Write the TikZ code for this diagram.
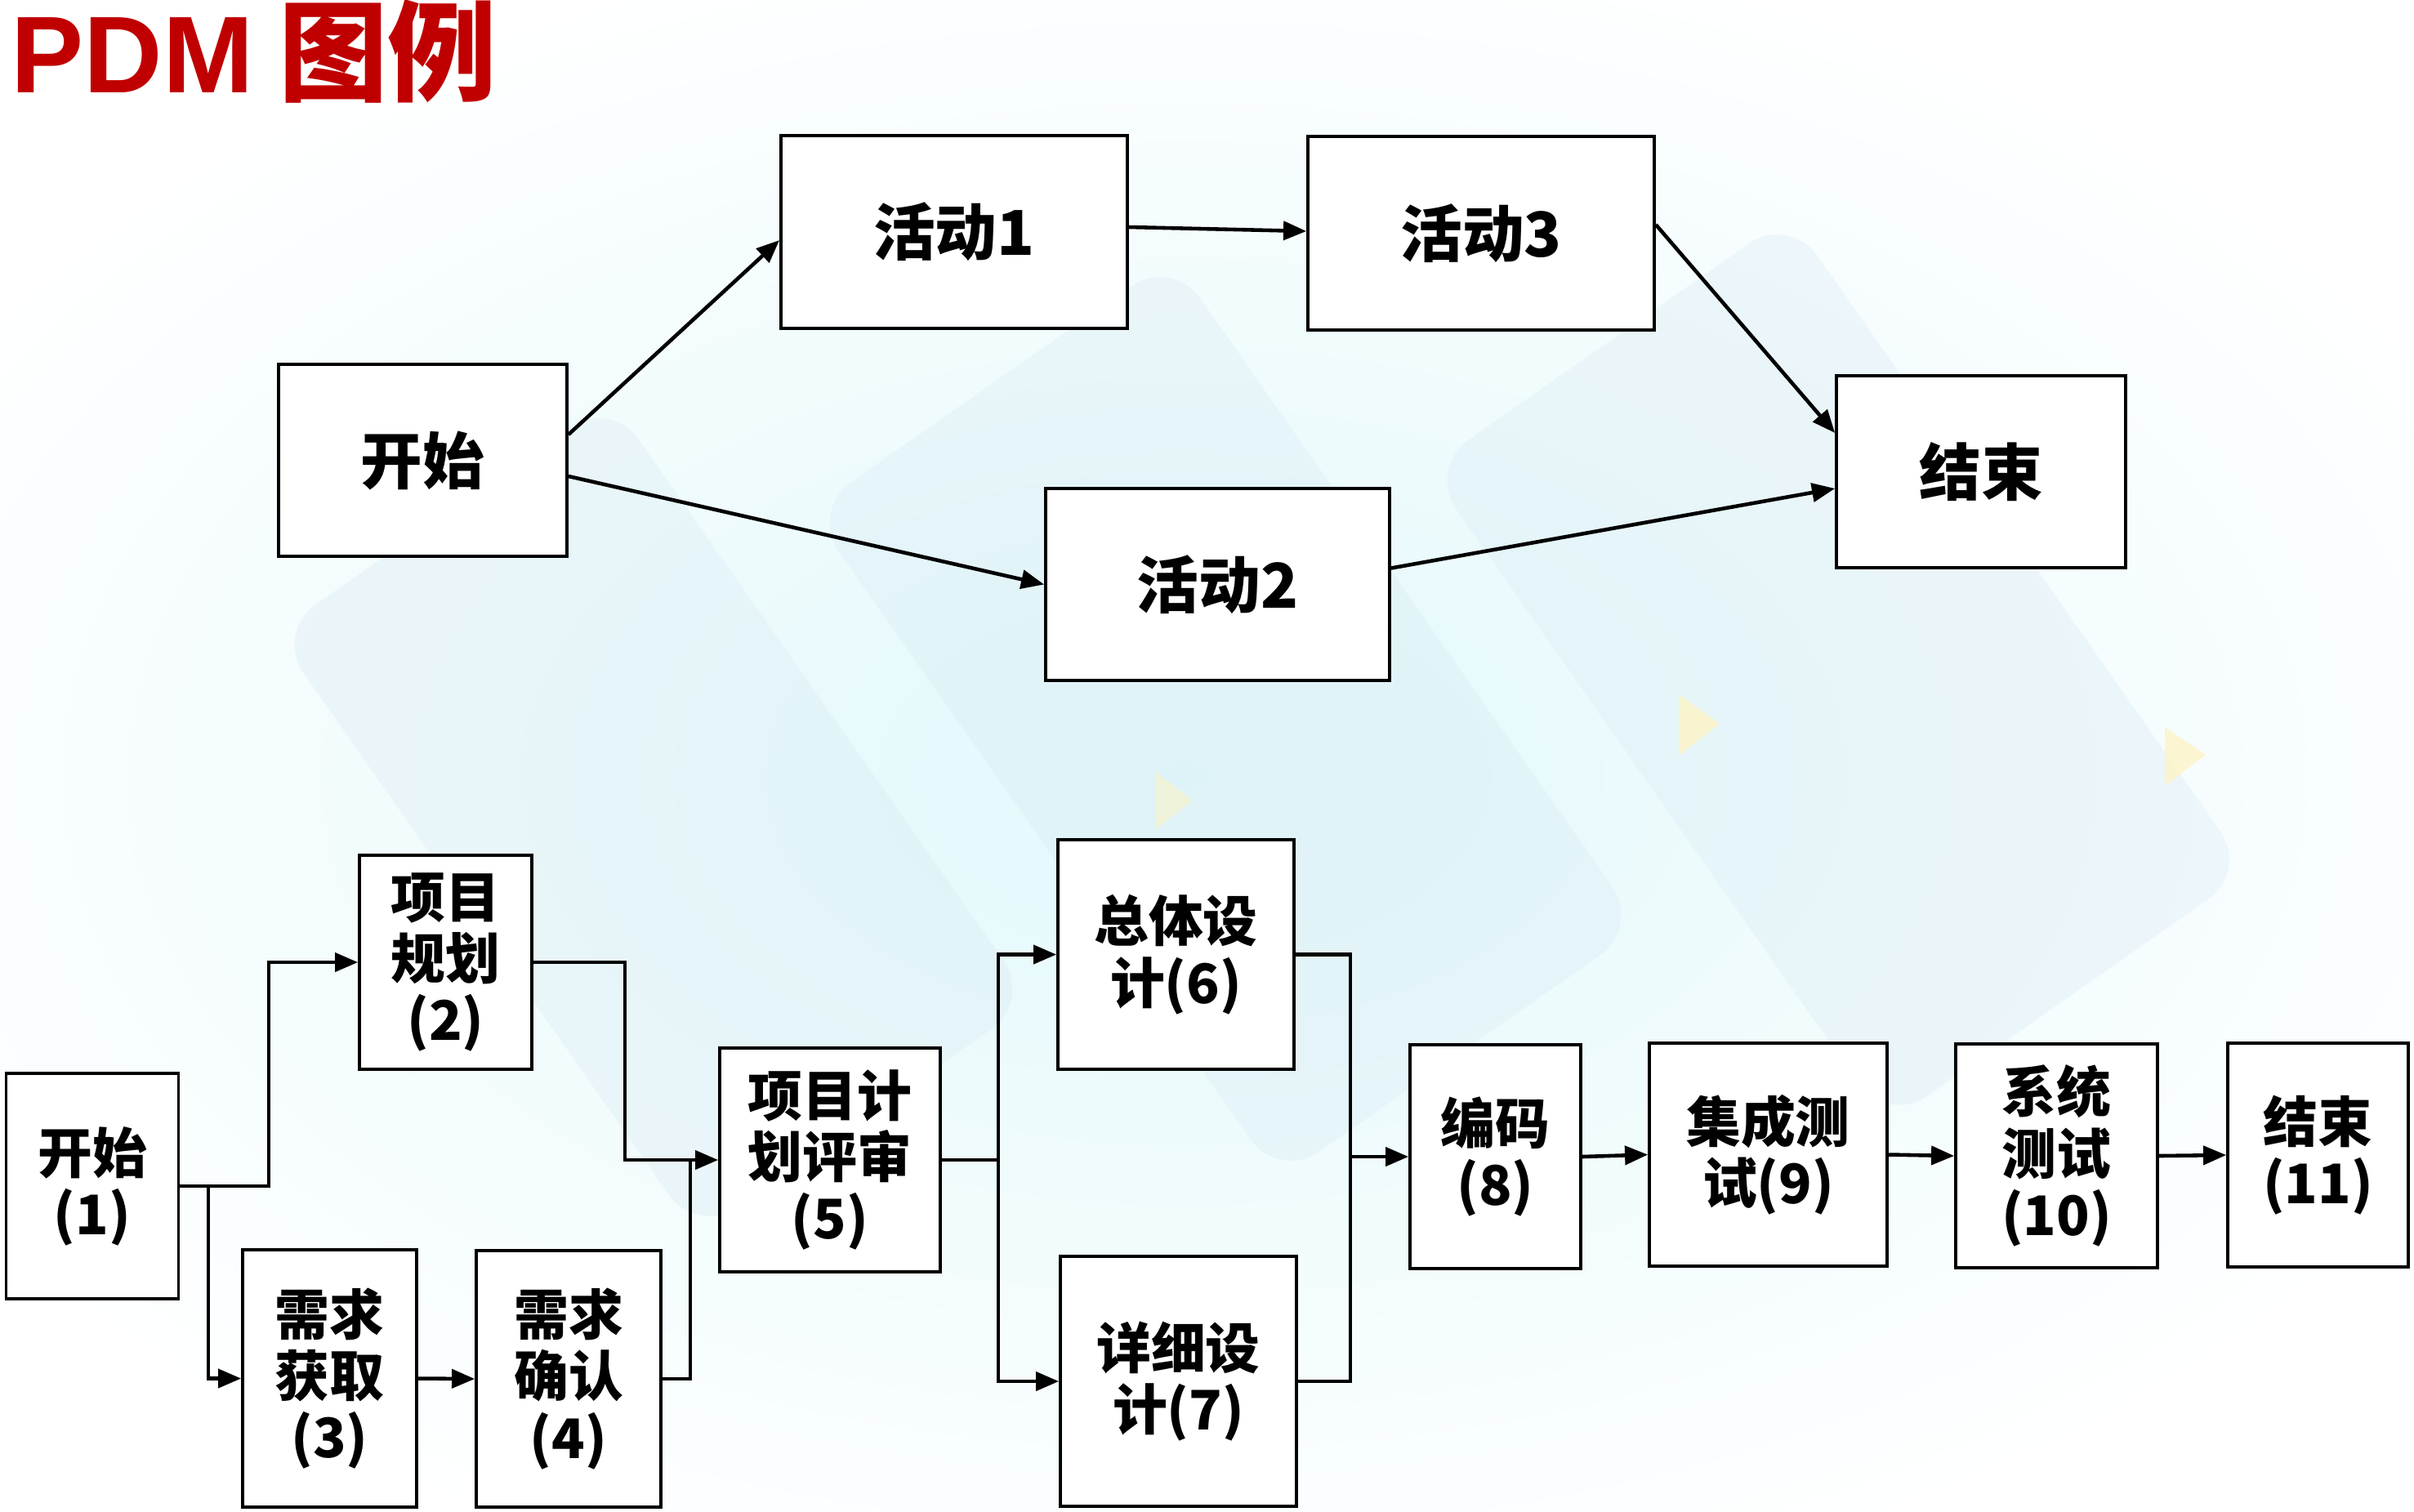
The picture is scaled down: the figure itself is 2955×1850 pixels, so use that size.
\documentclass[tikz,border=0pt]{standalone}
\usepackage{fontspec}
\setmainfont{Noto Sans CJK SC}
\newfontfamily\titlelatin{Liberation Sans}
\usetikzlibrary{arrows.meta,calc}
\definecolor{titlered}{RGB}{192,0,0}
\definecolor{bgcyan}{RGB}{226,248,251}
\definecolor{bgblue}{RGB}{214,232,242}
\definecolor{bgyellow}{RGB}{255,243,190}
\begin{document}
\begin{tikzpicture}[x=0.01cm,y=-0.01cm,
  box/.style={draw=black, line width=1pt, fill=white, inner sep=0pt, align=center,
    font=\bfseries\fontsize{19}{21.4}\selectfont},
  tbox/.style={box, font=\bfseries\fontsize{21.5}{26}\selectfont},
  arr/.style={line width=1.3pt, -{Triangle[length=8pt,width=6.5pt]}},
  ln/.style={line width=1.3pt},
  tile/.style={fill=bgblue, opacity=0.3, rounded corners=0.6cm}]
\useasboundingbox (0,0) rectangle (2955,1850);
\fill[white] (0,0) rectangle (2955,1850);
% background decoration
\shade[inner color=bgcyan, outer color=white] (1450,950) ellipse (1750 and 1050);
\fill[tile, rotate around={35:(800,1000)}] (550,550) rectangle (1050,1450);
\fill[tile, rotate around={35:(1500,880)}] (1230,380) rectangle (1770,1380);
\fill[tile, rotate around={35:(2250,820)}] (1980,330) rectangle (2520,1310);
\fill[bgyellow, opacity=0.7] (2055,850) -- (2105,886) -- (2055,925) -- cycle;
\fill[bgyellow, opacity=0.7] (2650,890) -- (2700,924) -- (2650,962) -- cycle;
\fill[bgyellow, opacity=0.5] (1415,945) -- (1460,980) -- (1415,1015) -- cycle;
% title
\node[anchor=base west, inner sep=0pt, text=titlered, font=\bfseries\fontsize{38}{40}\selectfont] (title) at (13,113) {{\titlelatin PDM} 图例};
% top diagram
\node[tbox, minimum width=3.53cm, minimum height=2.35cm] (s)  at (517.5,563.5) {开始};
\node[tbox, minimum width=4.24cm, minimum height=2.36cm] (a1) at (1168,284) {活动1};
\node[tbox, minimum width=4.24cm, minimum height=2.37cm] (a3) at (1813,285.5) {活动3};
\node[tbox, minimum width=4.21cm, minimum height=2.35cm] (a2) at (1490.5,715.5) {活动2};
\node[tbox, minimum width=3.54cm, minimum height=2.35cm] (e)  at (2425,577.5) {结束};
\draw[arr] ([yshift=0.315cm]s.east) -- ([yshift=-0.1cm]a1.west);
\draw[arr] ([yshift=-0.195cm]s.east) -- (a2.west);
\draw[arr] ([yshift=0.06cm]a1.east) -- ([yshift=0.025cm]a3.west);
\draw[arr] ([yshift=0.105cm]a3.east) -- ([yshift=0.475cm]e.west);
\draw[arr] ([yshift=0.2cm]a2.east) -- ([yshift=-0.205cm]e.west);
% bottom diagram
\node[box, minimum width=2.11cm, minimum height=2.76cm] (b1) at (113,1452) {开始\\(1)};
\node[box, minimum width=2.11cm, minimum height=2.62cm] (b2) at (545.5,1178) {项目\\规划\\(2)};
\node[box, minimum width=2.13cm, minimum height=3.15cm] (b3) at (403.5,1687.5) {需求\\获取\\(3)};
\node[box, minimum width=2.26cm, minimum height=3.14cm] (b4) at (696,1688) {需求\\确认\\(4)};
\node[box, minimum width=2.70cm, minimum height=2.74cm] (b5) at (1016,1420) {项目计\\划评审\\(5)};
\node[box, minimum width=2.89cm, minimum height=2.81cm] (b6) at (1439.5,1168.5) {总体设\\计(6)};
\node[box, minimum width=2.89cm, minimum height=3.06cm] (b7) at (1442.5,1691) {详细设\\计(7)};
\node[box, minimum width=2.09cm, minimum height=2.74cm] (b8) at (1830.5,1416) {编码\\(8)};
\node[box, minimum width=2.91cm, minimum height=2.73cm] (b9) at (2164.5,1413.5) {集成测\\试(9)};
\node[box, minimum width=2.47cm, minimum height=2.74cm] (b10) at (2517.5,1415) {系统\\测试\\(10)};
\node[box, minimum width=2.21cm, minimum height=2.74cm] (b11) at (2837.5,1414) {结束\\(11)};
\coordinate (j1) at (329,0);
\coordinate (j2) at (255,0);
\coordinate (j3) at (765,0);
\coordinate (j4) at (845,0);
\coordinate (j5) at (1222,0);
\coordinate (j6) at (1653,0);
\draw[arr] (b1.east) -- (b1.east -| j1) |- (b2.west);
\draw[arr] (b1.east -| j2) |- (b3.west);
\draw[arr] (b2.east) -- (b2.east -| j3) |- (b5.west);
\draw[arr] (b3.east) -- (b4.west);
\draw[ln] (b4.east) -- (b4.east -| j4) -- (j4 |- b5.west);
\draw[arr] (b5.east) -- (b5.east -| j5) |- (b6.west);
\draw[arr] (b5.east -| j5) |- (b7.west);
\draw[ln] (b6.east) -- (b6.east -| j6) -- (j6 |- b7.east) -- (b7.east);
\draw[arr] (j6 |- b8.west) -- (b8.west);
\draw[arr] (b8.east) -- (b9.west);
\draw[arr] (b9.east) -- (b10.west);
\draw[arr] (b10.east) -- (b11.west);
\end{tikzpicture}
\end{document}
